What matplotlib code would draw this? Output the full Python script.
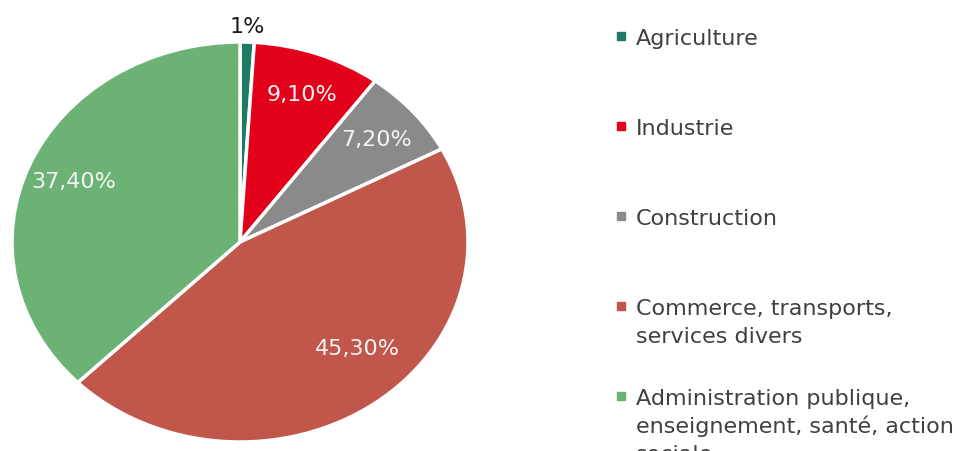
import numpy as np
import matplotlib
matplotlib.use("Agg")
import matplotlib.pyplot as plt
from matplotlib.patches import Rectangle

categories = ["Agriculture", "Industrie", "Construction",
              "Commerce, transports,\nservices divers",
              "Administration publique,\nenseignement, santé, action\nsociale"]
shares = [1.0, 9.1, 7.2, 45.3, 37.4]
pct_labels = ["1%", "9,10%", "7,20%", "45,30%", "37,40%"]
colors = ["#1E7B63", "#E2001A", "#8A8A8A", "#C0574A", "#6CB274"]

W, H = 979, 452
fig = plt.figure(figsize=(W / 100, H / 100), dpi=100)

# pie is stretched horizontally in the original, so use a non-equal aspect
cx, cy, rx, ry = 240, 243, 228, 200
ax = fig.add_axes([(cx - rx) / W, (H - cy - ry) / H, 2 * rx / W, 2 * ry / H])
wedges, _ = ax.pie(shares, colors=colors, startangle=90, counterclock=False,
                   wedgeprops=dict(edgecolor="white", linewidth=2.5))
ax.set_xlim(-1, 1)
ax.set_ylim(-1, 1)
ax.set_aspect("auto")

for w, lab in zip(wedges, pct_labels):
    mid = np.deg2rad((w.theta1 + w.theta2) / 2)
    if lab == "1%":
        r, col = 1.08, "#1a1a1a"
    else:
        r, col = 0.79, "#F4F4F4"
    if lab == "45,30%":
        mid += np.deg2rad(8)
        r = 0.74
    ax.text(r * np.cos(mid), r * np.sin(mid), lab, ha="center", va="center",
            fontsize=16, color=col, clip_on=False)

# legend drawn by hand (entries 90px apart, lines 28px apart)
for i, (name, col) in enumerate(zip(categories, colors)):
    yc = 37 + 90 * i
    fig.patches.append(Rectangle((617 / W, 1 - (yc + 4) / H), 8 / W, 8 / H,
                                 transform=fig.transFigure, color=col))
    for k, line in enumerate(name.split("\n")):
        yb = yc + 8 + 28 * k
        fig.text(636 / W, 1 - yb / H, line, ha="left", va="baseline",
                 fontsize=16, color="#404040")

fig.savefig("out.png", dpi=100)
